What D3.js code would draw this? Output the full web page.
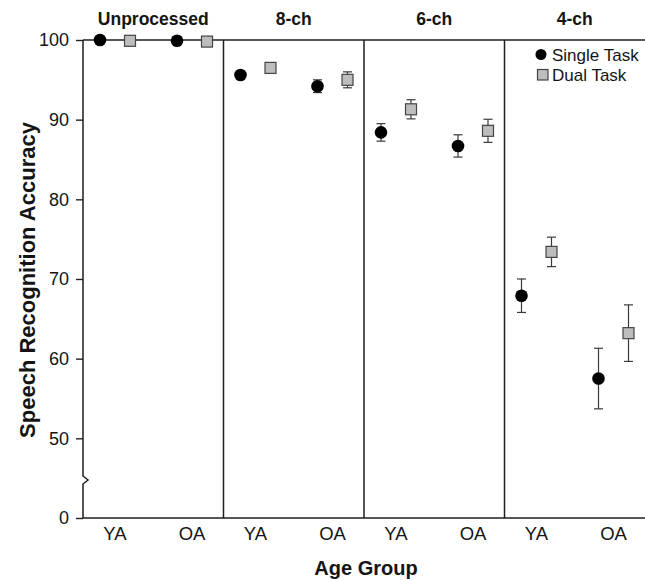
<!DOCTYPE html>
<html>
<head>
<meta charset="utf-8">
<script src="https://cdn.jsdelivr.net/npm/d3@7"></script>
<style>
    body { margin: 0; background: #fff; }
    text { font-family: "Liberation Sans", Arial, sans-serif; fill: #141414; }
</style>
</head>
<body>
<div id="ChartDiv"></div>
<script>
// values
const conditions = ["Unprocessed", "8-ch", "6-ch", "4-ch"];
const ageGroups = ["YA", "OA"];
const tasks = ["Single Task", "Dual Task"];

const singleYA = [100, 95.6, 88.4, 67.9];
const singleYAerr = [0, 0.4, 1.1, 2.1];
const singleOA = [99.9, 94.2, 86.7, 57.5];
const singleOAerr = [0, 0.8, 1.4, 3.8];
const dualYA = [99.9, 96.5, 91.3, 73.4];
const dualYAerr = [0, 0.4, 1.2, 1.85];
const dualOA = [99.8, 95.0, 88.6, 63.2];
const dualOAerr = [0, 1.0, 1.45, 3.55];

const yTicks = [0, 50, 60, 70, 80, 90, 100];

const ctx = {
    w: 645,
    h: 580,
    left: 83,
    right: 645,
    top: 40,
    bottom: 518,
};


function createViz() {
    let rows = [];
    conditions.forEach((c, i) => {
        rows.push({cond: c, age: "YA", task: "Single Task", mean: singleYA[i], err: singleYAerr[i]});
        rows.push({cond: c, age: "YA", task: "Dual Task", mean: dualYA[i], err: dualYAerr[i]});
        rows.push({cond: c, age: "OA", task: "Single Task", mean: singleOA[i], err: singleOAerr[i]});
        rows.push({cond: c, age: "OA", task: "Dual Task", mean: dualOA[i], err: dualOAerr[i]});
    });

    const svgEl = d3.select("#ChartDiv").append("svg")
        .attr("width", ctx.w)
        .attr("height", ctx.h);

    // broken axis: 0-50 squeezed into one tick interval
    const y = d3.scaleLinear().domain([0, 50, 100]).range([ctx.bottom, 438.3, ctx.top]);
    const x = d3.scaleBand().domain(conditions).range([ctx.left, ctx.right]);
    const xAge = d3.scalePoint().domain(ageGroups).range([32, 109]);
    const xTask = d3.scalePoint().domain(tasks).range([-15, 15]);
    const px = d => x(d.cond) + xAge(d.age) + xTask(d.task);

    // y axis ticks
    const yAxis = svgEl.append("g")
        .attr("transform", `translate(${ctx.left},0)`)
        .call(d3.axisLeft(y).tickValues(yTicks).tickSize(7).tickPadding(7));
    yAxis.select(".domain").remove();
    yAxis.selectAll(".tick line").attr("stroke", "#222").attr("stroke-width", 1.4);
    yAxis.selectAll(".tick text")
        .attr("font-size", 18)
        .attr("font-family", "Liberation Sans, Arial, sans-serif")
        .attr("fill", "#141414");

    const lineCol = "#1e1e1e";
    // y axis line with break mark
    svgEl.append("path")
        .attr("d", `M${ctx.left},${ctx.top}V476L${ctx.left + 5},480L${ctx.left},484V${ctx.bottom}`)
        .attr("fill", "none")
        .attr("stroke", lineCol)
        .attr("stroke-width", 1.5);

    // top and bottom frame lines
    [ctx.top, ctx.bottom].forEach(yy => {
        svgEl.append("line")
            .attr("x1", ctx.left).attr("x2", ctx.right)
            .attr("y1", yy).attr("y2", yy)
            .attr("stroke", lineCol).attr("stroke-width", 1.5);
    });

    // panel dividers
    svgEl.selectAll(".divider")
        .data(conditions.slice(1))
        .join("line")
        .attr("class", "divider")
        .attr("x1", d => x(d)).attr("x2", d => x(d))
        .attr("y1", ctx.top).attr("y2", ctx.bottom)
        .attr("stroke", lineCol).attr("stroke-width", 1.5);

    // panel titles
    svgEl.selectAll(".ptitle")
        .data(conditions)
        .join("text")
        .attr("class", "ptitle")
        .attr("x", d => x(d) + x.bandwidth() / 2)
        .attr("y", 25)
        .attr("text-anchor", "middle")
        .attr("font-size", 17.5)
        .attr("font-weight", "bold")
        .text(d => d);

    // age group labels
    let ageLabels = [];
    conditions.forEach(c => ageGroups.forEach(a => ageLabels.push({cond: c, age: a})));
    svgEl.selectAll(".agelab")
        .data(ageLabels)
        .join("text")
        .attr("class", "agelab")
        .attr("x", d => x(d.cond) + xAge(d.age))
        .attr("y", 540)
        .attr("text-anchor", "middle")
        .attr("font-size", 18.5)
        .text(d => d.age);

    // error bars
    const errG = svgEl.append("g")
        .attr("stroke", "#3a3a3a")
        .attr("stroke-width", 1.2);
    rows.filter(d => d.err > 0).forEach(d => {
        const cx = px(d);
        errG.append("line")
            .attr("x1", cx).attr("x2", cx)
            .attr("y1", y(d.mean + d.err)).attr("y2", y(d.mean - d.err));
        [d.mean + d.err, d.mean - d.err].forEach(v => {
            errG.append("line")
                .attr("x1", cx - 4.5).attr("x2", cx + 4.5)
                .attr("y1", y(v)).attr("y2", y(v));
        });
    });

    // markers
    svgEl.selectAll(".single")
        .data(rows.filter(d => d.task === "Single Task"))
        .join("circle")
        .attr("class", "single")
        .attr("cx", px)
        .attr("cy", d => y(d.mean))
        .attr("r", 6.3)
        .attr("fill", "#000");

    svgEl.selectAll(".dual")
        .data(rows.filter(d => d.task === "Dual Task"))
        .join("rect")
        .attr("class", "dual")
        .attr("x", d => px(d) - 5.5)
        .attr("y", d => y(d.mean) - 5.5)
        .attr("width", 11)
        .attr("height", 11)
        .attr("fill", "#bdbdbd")
        .attr("stroke", "#444")
        .attr("stroke-width", 1.2);

    // legend
    const leg = svgEl.append("g");
    leg.append("circle").attr("cx", 541).attr("cy", 54.5).attr("r", 5.5).attr("fill", "#000");
    leg.append("text").attr("x", 552).attr("y", 60.5).attr("font-size", 17).text(tasks[0]);
    leg.append("rect").attr("x", 537.5).attr("y", 69.5).attr("width", 10.5).attr("height", 10.5)
        .attr("fill", "#bdbdbd").attr("stroke", "#444").attr("stroke-width", 1.2);
    leg.append("text").attr("x", 552).attr("y", 81).attr("font-size", 17).text(tasks[1]);

    // axis titles
    svgEl.append("text")
        .attr("x", 366)
        .attr("y", 575)
        .attr("text-anchor", "middle")
        .attr("font-size", 20)
        .attr("font-weight", "bold")
        .text("Age Group");

    svgEl.append("text")
        .attr("transform", "translate(35,280) rotate(-90)")
        .attr("text-anchor", "middle")
        .attr("font-size", 22)
        .attr("font-weight", "bold")
        .text("Speech Recognition Accuracy");
}

createViz();
</script>
</body>
</html>
